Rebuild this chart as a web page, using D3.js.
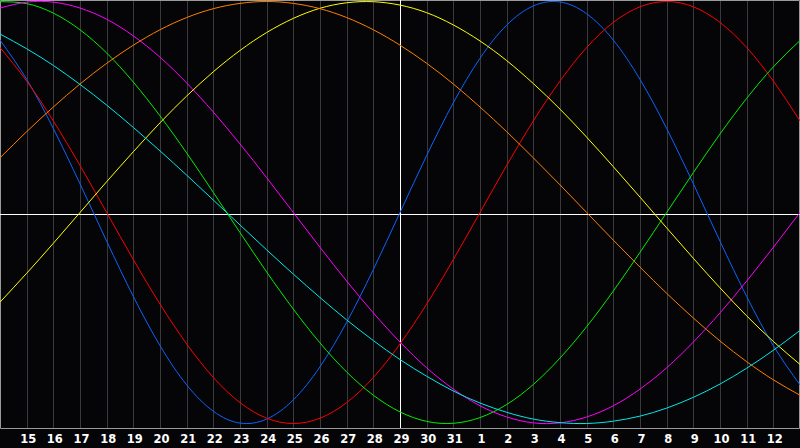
<!DOCTYPE html>
<html><head><meta charset="utf-8">
<script src="https://cdn.jsdelivr.net/npm/d3@7"></script>
<style>html,body{margin:0;padding:0;background:#050508;overflow:hidden}</style>
</head><body><svg id="c" width="800" height="448"></svg>
<script>
// day labels at grid lines (index 1..29); index 0 and 30 are the edges
const dayLabels = ["14","15","16","17","18","19","20","21","22","23","24","25","26","27","28","29","30","31","1","2","3","4","5","6","7","8","9","10","11","12","13"];
const todayIndex = 15;
const physical     = [81.7,63.1,39.8,13.6,-13.6,-39.8,-63.1,-81.7,-94.2,-99.8,-97.9,-88.8,-73.1,-52.0,-27.0,0,27.0,52.0,73.1,88.8,97.9,99.8,94.2,81.7,63.1,39.8,13.6,-13.6,-39.8,-63.1,-81.7];
const emotional    = [78.2,62.3,43.4,22.3,0,-22.3,-43.4,-62.3,-78.2,-90.1,-97.5,-100,-97.5,-90.1,-78.2,-62.3,-43.4,-22.3,0,22.3,43.4,62.3,78.2,90.1,97.5,100,97.5,90.1,78.2,62.3,43.4];
const intellectual = [99.9,99.0,94.5,86.6,75.6,61.8,45.8,28.2,9.5,-9.5,-28.2,-45.8,-61.8,-75.6,-86.6,-94.5,-99.0,-99.9,-97.2,-91.0,-81.5,-69.0,-54.1,-37.2,-18.9,0,18.9,37.2,54.1,69.0,81.5];
const intuitive    = [96.9,99.7,99.7,96.9,91.6,83.7,73.6,61.4,47.6,32.5,16.5,0,-16.5,-32.5,-47.6,-61.4,-73.6,-83.7,-91.6,-96.9,-99.7,-99.7,-96.9,-91.6,-83.7,-73.6,-61.4,-47.6,-32.5,-16.5,0];
const aesthetic    = [-42.5,-28.8,-14.6,0,14.6,28.8,42.5,55.2,66.7,76.8,85.3,92.0,96.8,99.4,99.9,98.3,94.7,88.9,81.3,72.0,61.1,49.0,35.7,21.7,7.3,-7.3,-21.7,-35.7,-49.0,-61.1,-72.0];
const awareness    = [25.9,38.3,50.0,60.9,70.7,79.3,86.6,92.4,96.6,99.1,100,99.1,96.6,92.4,86.6,79.3,70.7,60.9,50.0,38.3,25.9,13.1,0,-13.1,-25.9,-38.3,-50.0,-60.9,-70.7,-79.3,-86.6];
const spiritual    = [84.6,77.6,69.7,60.7,50.9,40.3,29.2,17.7,5.9,-5.9,-17.7,-29.2,-40.3,-50.9,-60.7,-69.7,-77.6,-84.6,-90.3,-94.7,-97.9,-99.6,-100,-98.9,-96.5,-92.7,-87.6,-81.3,-73.8,-65.3,-55.9];
const seriesNames  = ["physical","emotional","intellectual","intuitive","aesthetic","awareness","spiritual"];
const seriesColors = ["#0a64ff","#ff0000","#00ee00","#ff00ff","#ffff00","#ff7f00","#00e8e8"];

const series = [physical,emotional,intellectual,intuitive,aesthetic,awareness,spiritual];
const svg = d3.select("#c");
const W = 800, plotBottom = 428;
const x = d3.scaleLinear().domain([0, dayLabels.length - 1]).range([0, W]);
const y = d3.scaleLinear().domain([-100, 100]).range([423.5, 1.5]);

svg.append("rect").attr("width", W).attr("height", 448).attr("fill", "#050508");

// grid lines
const idx = d3.range(1, dayLabels.length - 1);
svg.append("g").selectAll("line").data(idx).join("line")
  .attr("x1", d => Math.round(x(d)) + 0.5).attr("x2", d => Math.round(x(d)) + 0.5)
  .attr("y1", 0).attr("y2", plotBottom)
  .attr("stroke", "#3a3a3e").attr("stroke-width", 1);

// frame
svg.append("path")
  .attr("d", `M0.5,${plotBottom + 0.5}V0.5H${W - 0.5}V${plotBottom + 0.5}H0.5`)
  .attr("fill", "none").attr("stroke", "#9a9a9a").attr("stroke-width", 1);

// zero line and today line
svg.append("line").attr("x1", 0).attr("x2", W)
  .attr("y1", Math.round(y(0)) + 1.5).attr("y2", Math.round(y(0)) + 1.5)
  .attr("stroke", "#ffffff").attr("stroke-width", 1);
svg.append("line").attr("x1", Math.round(x(todayIndex)) + 0.5).attr("x2", Math.round(x(todayIndex)) + 0.5)
  .attr("y1", 0).attr("y2", plotBottom)
  .attr("stroke", "#ffffff").attr("stroke-width", 1);

// curves
const line = d3.line().x((d, i) => x(i)).y(d => y(d)).curve(d3.curveNatural);
svg.append("g").selectAll("path").data(series).join("path")
  .attr("d", line)
  .attr("fill", "none")
  .attr("stroke", (d, i) => seriesColors[i])
  .attr("stroke-width", 1)
  .attr("class", (d, i) => seriesNames[i]);

// labels
svg.append("g").selectAll("text").data(idx).join("text")
  .attr("x", d => x(d) + 1.5).attr("y", 443)
  .attr("text-anchor", "middle")
  .attr("fill", "#ffffff")
  .attr("font-family", "'DejaVu Sans', sans-serif")
  .attr("font-weight", "bold")
  .attr("font-size", "11.5px")
  .text(d => dayLabels[d]);
</script></body></html>
